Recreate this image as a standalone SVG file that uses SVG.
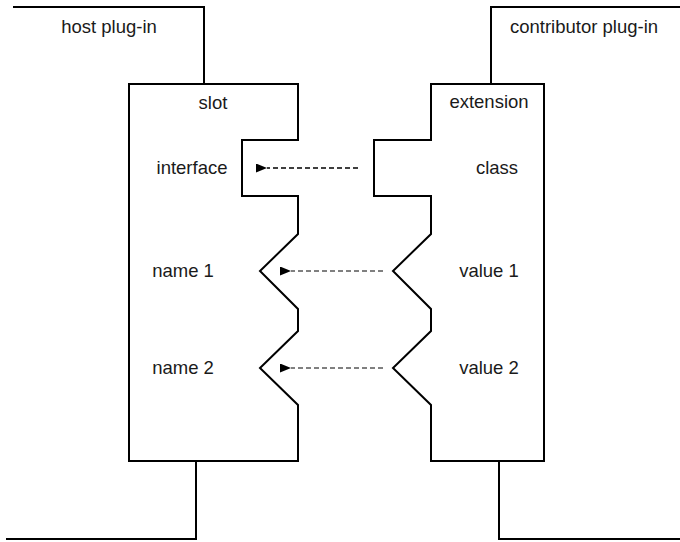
<svg xmlns="http://www.w3.org/2000/svg" width="680" height="542" viewBox="0 0 680 542">
  <style>
    .outline { fill: none; stroke: #000; stroke-width: 2; stroke-linejoin: miter; }
    .label { font-family: "Liberation Sans", Arial, sans-serif; font-size: 18.5px; fill: #1a1a1a; text-anchor: middle; }
    .link { fill: none; stroke: #000; stroke-width: 1.4; stroke-dasharray: 5 3; }
    .link-thin { fill: none; stroke: #000; stroke-width: 1; stroke-dasharray: 5 3; }
  </style>
  <defs>
    <marker id="head" viewBox="0 0 11 9" refX="0" refY="4.5" markerWidth="11" markerHeight="9" markerUnits="userSpaceOnUse" orient="auto">
      <path d="M11,0 L0,4.5 L11,9 Z" fill="#000"/>
    </marker>
  </defs>
  <rect width="680" height="542" fill="#fff"/>

  <!-- host plug-in boundary -->
  <g id="host-plugin">
    <path class="outline" d="M13,7 H204 V84"/>
    <path class="outline" d="M196,461 V539 H6"/>
    <text class="label" x="109" y="33">host plug-in</text>
  </g>

  <!-- contributor plug-in boundary -->
  <g id="contributor-plugin">
    <path class="outline" d="M680,7 H491 V84"/>
    <path class="outline" d="M499,461 V539 H680"/>
    <text class="label" x="584" y="33">contributor plug-in</text>
  </g>

  <!-- slot with its interface socket and name notches -->
  <g id="slot">
    <path class="outline" d="M129,84 H298 V140 H242 V196 H298 V234 L260,271 L298,309 V331 L260,368 L298,405 V461 H129 Z"/>
    <text class="label" x="213" y="109">slot</text>
    <text class="label" x="192" y="174">interface</text>
    <text class="label" x="183" y="277">name 1</text>
    <text class="label" x="183" y="374">name 2</text>
  </g>

  <!-- extension with its class plug and value teeth -->
  <g id="extension">
    <path class="outline" d="M431,84 H544 V461 H431 V405 L393,368 L431,331 V309 L393,271 L431,234 V196 H374 V140 H431 Z"/>
    <text class="label" x="489" y="108">extension</text>
    <text class="label" x="497" y="174">class</text>
    <text class="label" x="489" y="277">value 1</text>
    <text class="label" x="489" y="374">value 2</text>
  </g>

  <!-- dashed connectors from extension to slot -->
  <g id="connectors">
    <path class="link" d="M358,168 H267" marker-end="url(#head)"/>
    <path class="link-thin" d="M383,271 H291" marker-end="url(#head)"/>
    <path class="link-thin" d="M383,368 H291" marker-end="url(#head)"/>
  </g>
</svg>
